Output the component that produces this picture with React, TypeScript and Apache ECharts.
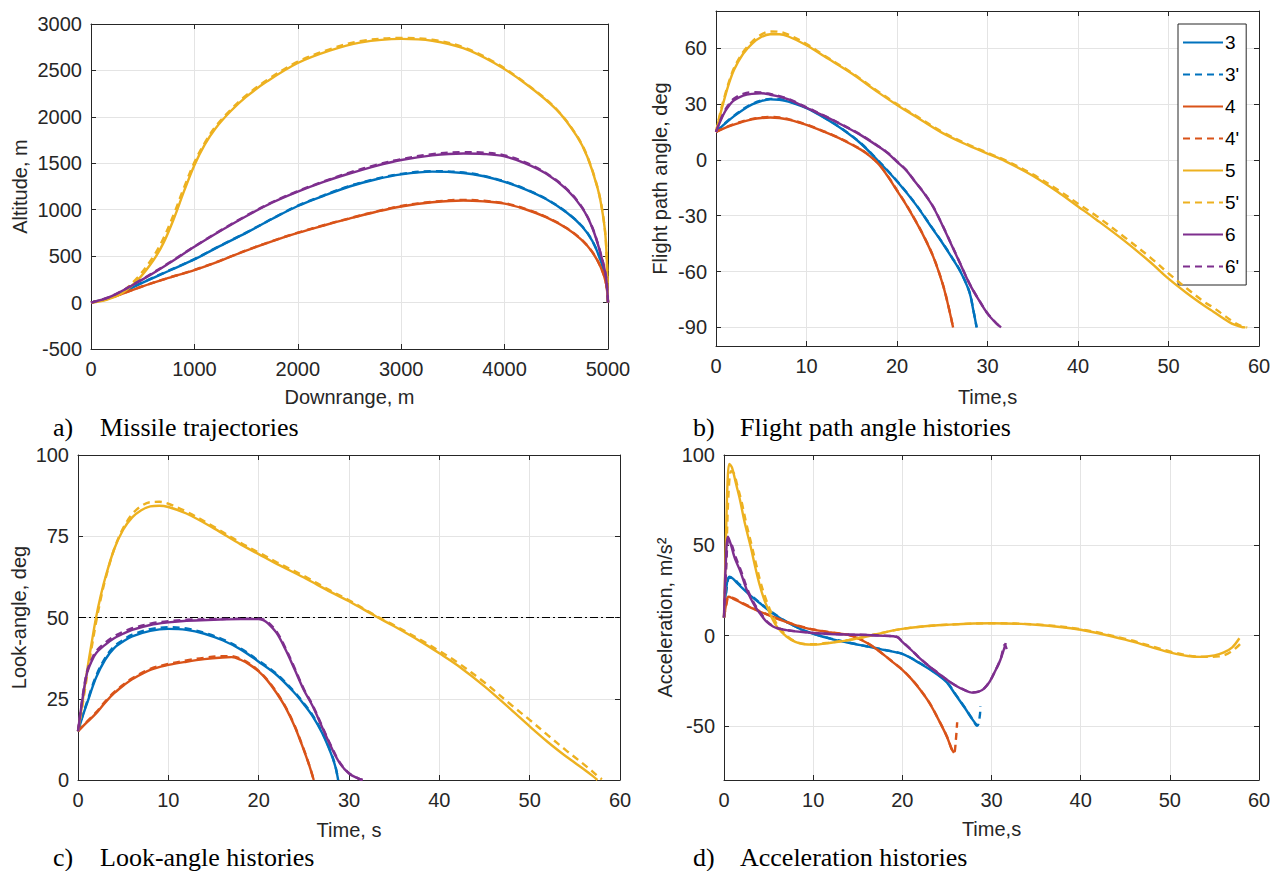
import { useEffect, useRef } from 'react';
import * as echarts from 'echarts';

type Pt = [number, number];

// ---------- legend / series names and colours ----------
const seriesNames = ['3', "3'", '4', "4'", '5', "5'", '6', "6'"];
const seriesColors = ['#0072BD', '#D95319', '#EDB120', '#7E2F8E'];

// ---------- panel a: altitude vs downrange ----------
const altA3: Pt[] = [[0,0],[200,60],[500,215],[750,340],[1000,465],[1250,610],[1500,750],[1750,900],[2000,1040],[2250,1150],[2500,1250],[2750,1325],[3000,1380],[3300,1410],[3600,1395],[3800,1360],[4000,1300],[4200,1220],[4400,1115],[4600,970],[4750,820],[4850,660],[4930,450],[4980,250],[5000,0]];
const altA3d: Pt[] = [[0,0],[200,62],[500,218],[750,343],[1000,468],[1250,613],[1500,753],[1750,903],[2000,1044],[2250,1155],[2500,1256],[2750,1331],[3000,1386],[3300,1416],[3600,1401],[3800,1365],[4000,1305],[4200,1224],[4400,1118],[4600,972],[4750,822],[4850,662],[4930,452],[4980,252],[5000,0]];
const altA4: Pt[] = [[0,0],[200,55],[500,175],[750,265],[1000,350],[1250,450],[1500,560],[1750,660],[2000,750],[2250,830],[2500,905],[2750,975],[3000,1035],[3300,1080],[3600,1100],[3800,1090],[4000,1065],[4200,1005],[4400,920],[4600,800],[4750,670],[4850,540],[4930,380],[4980,210],[5000,0]];
const altA4d: Pt[] = [[0,0],[200,56],[500,177],[750,267],[1000,352],[1250,452],[1500,562],[1750,662],[2000,753],[2250,833],[2500,908],[2750,979],[3000,1040],[3300,1085],[3600,1106],[3800,1096],[4000,1070],[4200,1010],[4400,924],[4600,803],[4750,672],[4850,542],[4930,382],[4980,212],[5000,0]];
const altA5: Pt[] = [[0,0],[150,30],[300,100],[450,240],[600,450],[700,640],[800,900],[900,1200],[1000,1480],[1100,1700],[1200,1870],[1350,2060],[1500,2215],[1700,2380],[2000,2580],[2300,2710],[2600,2800],[3000,2840],[3300,2820],[3600,2740],[3900,2580],[4200,2360],[4500,2080],[4700,1790],[4800,1570],[4900,1230],[4950,950],[4980,650],[5000,0]];
const altA5d: Pt[] = [[0,0],[150,35],[300,115],[450,270],[600,490],[700,690],[800,950],[900,1240],[1000,1510],[1100,1720],[1200,1890],[1350,2075],[1500,2230],[1700,2395],[2000,2595],[2300,2725],[2600,2815],[3000,2850],[3300,2830],[3600,2750],[3900,2590],[4200,2365],[4500,2085],[4700,1795],[4800,1575],[4900,1235],[4950,955],[4980,655],[5000,0]];
const altA6: Pt[] = [[0,0],[200,70],[500,250],[750,420],[1000,600],[1250,770],[1500,930],[1750,1075],[2000,1195],[2250,1300],[2500,1390],[2750,1470],[3000,1535],[3300,1585],[3600,1605],[3800,1600],[4000,1575],[4200,1500],[4400,1390],[4600,1220],[4750,1020],[4850,800],[4930,520],[4980,280],[5000,0]];
const altA6d: Pt[] = [[0,0],[200,70],[500,255],[750,425],[1000,605],[1250,775],[1500,935],[1750,1080],[2000,1200],[2250,1305],[2500,1400],[2750,1480],[3000,1545],[3300,1598],[3600,1620],[3800,1615],[4000,1585],[4200,1510],[4400,1395],[4600,1225],[4750,1025],[4850,805],[4930,525],[4980,285],[5000,0]];

// ---------- panel b: flight path angle vs time ----------
const fpaB3: Pt[] = [[0,15],[1,19.5],[2,23.5],[3,27],[4,29.8],[5,31.6],[6,32.5],[7,32.3],[8,31.3],[10,27.8],[12,22.5],[14,16.3],[16,8.8],[18,-1],[20,-11.5],[22,-23.5],[24,-37.5],[25,-44.5],[26,-52],[27,-60],[28,-71],[28.4,-80],[28.8,-90]];
const fpaB3d: Pt[] = [[0,15],[1,19.7],[2,23.8],[3,27.3],[4,30.1],[5,31.9],[6,32.8],[7,32.6],[8,31.6],[10,28],[12,22.7],[14,16.5],[16,9],[18,-0.8],[20,-11.3],[22,-23.3],[24,-37.3],[25,-44.3],[26,-51.8],[27,-59.8],[28,-70.8],[28.4,-79.8],[28.8,-90]];
const fpaB4: Pt[] = [[0,15],[1,17.2],[2,19],[3,20.6],[4,21.8],[5,22.5],[6,22.8],[7,22.5],[8,21.6],[10,18.8],[12,15],[14,10.7],[16,5.5],[17,2],[18,-2.5],[19,-9],[20,-16.5],[21,-24],[22,-32.4],[23,-41.5],[24,-52],[25,-66],[25.6,-77],[26.2,-90]];
const fpaB4d: Pt[] = [[0,15],[1,17.4],[2,19.2],[3,20.8],[4,22],[5,22.8],[6,23.1],[7,22.8],[8,21.9],[10,19],[12,15.2],[14,10.9],[16,5.7],[17,2.2],[18,-2.3],[19,-8.8],[20,-16.3],[21,-23.8],[22,-32.2],[23,-41.3],[24,-51.8],[25,-65.8],[25.6,-76.8],[26.2,-90]];
const fpaB5: Pt[] = [[0,15],[0.5,25],[1,34],[1.5,42],[2,48.5],[3,57],[4,62.5],[5,66],[6,67.5],[7,67.5],[8,66.3],[10,61.6],[12,55.5],[15,46.4],[18,36],[20,29.5],[22,23.5],[25,14.5],[28,7.5],[30,3.4],[32,-0.8],[35,-8.5],[38,-18],[40,-25],[42,-32],[45,-43],[48,-55],[50,-63.8],[52,-71.5],[54,-78.5],[55,-81.7],[56,-85],[57,-88],[58,-89.7],[58.5,-90]];
const fpaB5d: Pt[] = [[0,15],[0.5,26],[1,35],[1.5,43],[2,49.5],[3,58],[4,63.5],[5,67.3],[6,69],[7,68.8],[8,67.3],[10,62.3],[12,56],[15,46.8],[18,36.5],[20,30],[22,24],[25,15],[28,8],[30,3.8],[32,-0.3],[35,-7.8],[38,-16.8],[40,-23.5],[42,-30],[45,-41],[48,-52.5],[50,-61],[52,-69],[54,-76.5],[55,-79.5],[56,-83],[57,-86.5],[58,-89.2],[58.7,-90]];
const fpaB6: Pt[] = [[0,15],[0.5,21],[1,26],[1.5,29.5],[2,32],[3,34.5],[4,35.5],[5,35.8],[6,35],[7,34],[8,32.5],[10,28],[12,23.5],[14,18.6],[16,13.3],[18,7],[19,3.5],[20,-1],[21,-5.5],[22,-11.8],[23,-18],[24,-25.3],[25,-35],[26,-45.5],[27,-56],[28,-66.5],[29,-75],[30,-82.6],[31,-88],[31.5,-90]];
const fpaB6d: Pt[] = [[0,15],[0.5,21.5],[1,26.8],[1.5,30.3],[2,33],[3,35.5],[4,36.4],[5,36.3],[6,35.4],[7,34.3],[8,32.8],[10,28.3],[12,23.7],[14,18.8],[16,13.5],[18,7.2],[19,3.7],[20,-0.8],[21,-5.3],[22,-11.6],[23,-17.8],[24,-25.1],[25,-34.8],[26,-45.3],[27,-55.8],[28,-66.3],[29,-74.8],[30,-82.4],[31,-87.9],[31.5,-90]];

// ---------- panel c: look-angle vs time ----------
const lookC3: Pt[] = [[0,15],[0.5,19.5],[1,23.6],[2,31.5],[3,37],[4,40.6],[5,42.6],[6,44.2],[8,45.9],[10,46.5],[12,46.2],[14,45],[16,43],[18,40.2],[20,36.4],[22,32.3],[24,26.7],[25,23.3],[26,19.5],[27,14.6],[28,8.2],[28.5,4],[28.8,0]];
const lookC3d: Pt[] = [[0,15],[0.5,19.8],[1,24],[2,32],[3,37.5],[4,41.1],[5,43.1],[6,44.7],[8,46.4],[10,47],[12,46.6],[14,45.3],[16,43.3],[18,40.5],[20,36.7],[22,32.6],[24,27],[25,23.6],[26,19.8],[27,14.9],[28,8.5],[28.5,4.2],[28.8,0]];
const lookC4: Pt[] = [[0,15],[1,17.8],[2,20.5],[3,23.8],[4,26.7],[5,29],[6,31],[8,33.9],[10,35.4],[12,36.4],[14,37.2],[16,37.7],[17,37.8],[18,37],[19,35.5],[20,33.4],[21,30.5],[22,26.7],[23,22.2],[24,16.4],[25,9.2],[25.6,4.5],[26.1,0]];
const lookC4d: Pt[] = [[0,15],[1,18],[2,20.8],[3,24.1],[4,27],[5,29.3],[6,31.3],[8,34.2],[10,35.7],[12,36.8],[14,37.6],[16,38.1],[17,38.1],[18,37.3],[19,35.8],[20,33.6],[21,30.7],[22,26.9],[23,22.4],[24,16.6],[25,9.4],[25.6,4.6],[26.1,0]];
const lookC5: Pt[] = [[0,15],[0.5,24],[1,33.5],[1.5,42],[2,50],[2.5,56.5],[3,62],[4,71],[5,77],[6,80.8],[7,83],[8,84.2],[9,84.4],[10,84],[12,82],[15,77.5],[18,72.5],[20,69.5],[22,66.5],[25,62.3],[28,57.8],[30,55],[33,50.3],[35,47.3],[38,42.5],[40,39],[42,35.3],[45,28.8],[48,21.5],[50,16.5],[52,11.7],[54,7.3],[55,5.3],[56,3.3],[57,1.2],[57.5,0]];
const lookC5d: Pt[] = [[0,15],[0.5,23],[1,32],[1.5,40.5],[2,48.5],[2.5,55.5],[3,61.5],[4,71],[5,77.5],[6,81.8],[7,84.3],[8,85.5],[9,85.6],[10,85],[12,82.6],[15,78],[18,73],[20,70],[22,67],[25,62.8],[28,58.2],[30,55.3],[33,50.5],[35,47.6],[38,43],[40,39.7],[42,36.2],[45,30],[48,23],[50,18.5],[52,13.8],[54,9.2],[55,7],[56,4.8],[57,2.5],[57.6,1],[58,0.2]];
const lookC6: Pt[] = [[0,15],[0.5,25],[1,32.9],[1.5,36.5],[2,39],[3,41.6],[4,43.6],[5,45],[6,46.2],[8,47.7],[10,48.5],[12,49],[15,49.3],[18,49.5],[20,49.5],[20.5,49.2],[21,48.3],[22,45.2],[23,40],[24,33.9],[25,27.7],[26,22.6],[27,16.4],[28,10.3],[29,5.1],[30,2],[31,0.5],[31.5,0]];
const lookC6d: Pt[] = [[0,15],[0.5,25.5],[1,33.4],[1.5,37],[2,39.6],[3,42.2],[4,44.2],[5,45.6],[6,46.7],[8,48.1],[10,48.9],[12,49.3],[15,49.5],[18,49.6],[20,49.6],[20.5,49.4],[21,48.6],[22,45.6],[23,40.4],[24,34.3],[25,28],[26,22.9],[27,16.7],[28,10.6],[29,5.3],[30,2.1],[31,0.5],[31.5,0]];
const lookLimit = 50;

// ---------- panel d: acceleration vs time ----------
const accD3: Pt[] = [[0,10],[0.3,28],[0.6,32.6],[1,31.5],[1.5,29],[2,26.5],[3,22],[4,18],[5,14],[6,10.5],[7,7.5],[8,5],[9,2.7],[10,1],[12,-1.8],[14,-4],[16,-6],[18,-8],[20,-10.2],[22,-15.5],[24,-21.8],[25,-26],[26,-33],[27,-40],[27.8,-46],[28.4,-50]];
const accD3d: Pt[] = [[0,10],[0.3,26],[0.6,32],[1,31.8],[1.5,29.5],[2,27],[3,22.4],[4,18.3],[5,14.3],[6,10.8],[7,7.7],[8,5.1],[9,2.8],[10,1.1],[12,-1.7],[14,-3.9],[16,-5.9],[18,-7.9],[20,-10.1],[22,-15.3],[24,-21.6],[25,-25.8],[26,-32.8],[27,-39.8],[27.8,-45.8],[28.4,-50],[28.7,-44],[28.75,-39]];
const accD4: Pt[] = [[0,10],[0.3,19],[0.5,21.5],[1,20.5],[2,18],[3,15.5],[4,13.3],[5,11.3],[6,9.3],[7,7.5],[8,5.8],[10,3.3],[12,1.7],[14,0.3],[15,-1.5],[16,-4],[17,-7.2],[18,-11],[19,-15],[20,-19],[21,-24],[22,-30],[23,-37],[24,-46],[25,-56],[25.5,-62.5],[25.8,-65]];
const accD4d: Pt[] = [[0,10],[0.3,18],[0.5,21],[1,20.8],[2,18.3],[3,15.8],[4,13.5],[5,11.5],[6,9.5],[7,7.6],[8,5.9],[10,3.4],[12,1.8],[14,0.4],[15,-1.4],[16,-3.9],[17,-7.1],[18,-10.9],[19,-14.9],[20,-18.9],[21,-23.9],[22,-29.9],[23,-36.9],[24,-45.9],[25,-55.9],[25.5,-62.4],[25.8,-65],[26,-58],[26.15,-48]];
const accD5: Pt[] = [[0,10],[0.2,50],[0.4,85],[0.6,95],[0.9,93],[1.3,85],[1.8,75],[2.3,63],[3,49],[3.5,38],[4,28],[4.5,20],[5,14],[5.5,8.5],[6,4.5],[7,-0.5],[8,-3.5],[9,-4.8],[10,-5],[12,-4],[14,-2.5],[16,-0.5],[18,1.8],[20,3.7],[22,4.9],[25,6],[30,6.8],[35,6],[40,3.2],[45,-2.3],[48,-6.5],[50,-9.3],[52,-11.3],[53.5,-11.8],[55,-11],[56,-9.5],[57,-6.5],[57.8,-1.5]];
const accD5d: Pt[] = [[0,10],[0.25,42],[0.5,78],[0.8,91],[1.1,90],[1.5,83],[2,73.5],[2.5,62],[3.1,50],[3.6,39.5],[4.1,29.5],[4.6,21.5],[5.1,15],[5.6,9.5],[6.1,5],[7.1,-0.3],[8,-3.3],[9,-4.6],[10,-4.8],[12,-3.8],[14,-2.4],[16,-0.4],[18,1.8],[20,3.7],[22,4.9],[25,6],[30,6.8],[35,6.1],[40,3.5],[45,-1.8],[48,-6],[50,-8.8],[52,-11],[54,-11.8],[55.5,-11.5],[56.5,-10],[57.5,-6.5],[58.2,-3]];
const accD6: Pt[] = [[0,10],[0.2,40],[0.45,54.8],[0.8,50],[1.2,43],[1.8,36],[2.5,26],[3,20.5],[3.5,16],[4,12.5],[4.8,7.5],[5.5,5],[6,4],[7,3],[8,2.3],[10,1.4],[12,0.8],[14,0.5],[16,0.3],[18,-0.2],[19.4,-0.8],[20,-3.5],[21,-8],[22,-12.8],[23,-17],[24,-20.8],[25,-24.5],[26,-27.8],[27,-30.3],[27.8,-31.6],[28.5,-31.2],[29.2,-29.2],[29.8,-25.5],[30.3,-20.8],[31,-13.4],[31.6,-4.1]];
const accD6d: Pt[] = [[0,10],[0.25,38],[0.5,53],[0.85,50.5],[1.3,43.5],[1.9,36],[2.6,26],[3.1,20.5],[3.6,16],[4.1,12.5],[4.9,7.5],[5.6,5],[6.1,4],[7,3.1],[8,2.4],[10,1.5],[12,0.9],[14,0.6],[16,0.4],[18,-0.1],[19.4,-0.7],[20,-3.4],[21,-7.9],[22,-12.7],[23,-16.9],[24,-20.7],[25,-24.4],[26,-27.7],[27,-30.2],[27.8,-31.5],[28.5,-31.1],[29.2,-29.1],[29.8,-25.4],[30.3,-20.7],[31,-13.3],[31.5,-5],[31.7,-7.5]];

// ---------- axis ticks ----------
const ticksAy = [-500, 0, 500, 1000, 1500, 2000, 2500, 3000];
const ticksBy = [-90, -60, -30, 0, 30, 60];
const ticksCy = [0, 25, 50, 75, 100];
const ticksDy = [-50, 0, 50, 100];

const panelData: Pt[][][] = [
  [altA3, altA3d, altA4, altA4d, altA5, altA5d, altA6, altA6d],
  [fpaB3, fpaB3d, fpaB4, fpaB4d, fpaB5, fpaB5d, fpaB6, fpaB6d],
  [lookC3, lookC3d, lookC4, lookC4d, lookC5, lookC5d, lookC6, lookC6d],
  [accD3, accD3d, accD4, accD4d, accD5, accD5d, accD6, accD6d],
];

const AX = '#262626';
const GRIDC = '#e4e4e4';
const SANS = 'Liberation Sans';
const SERIF = 'Liberation Serif';
const plain = (v: number) => String(v);

function xAxes(i: number, max: number, interval: number, name: string, nameGap: number) {
  return [
    {
      type: 'value', gridIndex: i, position: 'bottom', min: 0, max, interval,
      name, nameLocation: 'middle', nameGap,
      nameTextStyle: { fontFamily: SANS, fontSize: 20, color: AX },
      axisLine: { show: true, onZero: false, lineStyle: { color: AX, width: 1 } },
      axisTick: { show: true, inside: true, length: 5, lineStyle: { color: AX } },
      axisLabel: { margin: 10, fontFamily: SANS, fontSize: 20, color: AX, formatter: plain },
      splitLine: { show: true, lineStyle: { color: GRIDC, width: 1 } },
    },
    {
      type: 'value', gridIndex: i, position: 'top', min: 0, max, interval,
      axisLine: { show: true, onZero: false, lineStyle: { color: AX, width: 1 } },
      axisTick: { show: true, inside: true, length: 5, lineStyle: { color: AX } },
      axisLabel: { show: false },
      splitLine: { show: false },
    },
  ];
}

function yAxes(i: number, min: number, max: number, ticks: number[], name: string, nameGap: number) {
  return [
    {
      type: 'value', gridIndex: i, position: 'left', min, max,
      name, nameLocation: 'middle', nameGap,
      nameTextStyle: { fontFamily: SANS, fontSize: 20, color: AX },
      axisLine: { show: true, onZero: false, lineStyle: { color: AX, width: 1 } },
      axisTick: { show: true, inside: true, length: 5, lineStyle: { color: AX }, customValues: ticks },
      axisLabel: { margin: 9, fontFamily: SANS, fontSize: 20, color: AX, customValues: ticks, formatter: plain },
      splitLine: { show: true, lineStyle: { color: GRIDC, width: 1 } },
    },
    {
      type: 'value', gridIndex: i, position: 'right', min, max,
      axisLine: { show: true, onZero: false, lineStyle: { color: AX, width: 1 } },
      axisTick: { show: true, inside: true, length: 5, lineStyle: { color: AX }, customValues: ticks },
      axisLabel: { show: false, customValues: ticks },
      splitLine: { show: false },
    },
  ];
}

function caption(x1: number, x2: number, y: number, tag: string, text: string) {
  return [
    { type: 'text', x: x1, y, style: { text: tag, font: `26px "${SERIF}"`, fill: '#000', verticalAlign: 'middle' } },
    { type: 'text', x: x2, y, style: { text, font: `26px "${SERIF}"`, fill: '#000', verticalAlign: 'middle' } },
  ];
}

export default function App() {
  const ref = useRef<HTMLDivElement>(null);
  useEffect(() => {
    if (!ref.current) return;
    const chart = echarts.init(ref.current, undefined, { renderer: 'svg' });

    const xs: any[] = [];
    const ys: any[] = [];
    const xa = [
      xAxes(0, 5000, 1000, 'Downrange, m', 38),
      xAxes(1, 60, 10, 'Time,s', 41),
      xAxes(2, 60, 10, 'Time, s', 40),
      xAxes(3, 60, 10, 'Time,s', 39),
    ];
    const ya = [
      yAxes(0, -500, 3000, ticksAy, 'Altitude, m', 61),
      yAxes(1, -100, 80, ticksBy, 'Flight path angle, deg', 46),
      yAxes(2, 0, 100, ticksCy, 'Look-angle, deg', 49),
      yAxes(3, -80, 100, ticksDy, 'Acceleration, m/s²', 49),
    ];
    xa.forEach((p) => xs.push(p[0]));
    xa.forEach((p) => xs.push(p[1]));
    ya.forEach((p) => ys.push(p[0]));
    ya.forEach((p) => ys.push(p[1]));

    const series: any[] = [];
    panelData.forEach((curves, p) => {
      curves.forEach((data, k) => {
        const s: any = {
          type: 'line',
          name: seriesNames[k],
          xAxisIndex: p,
          yAxisIndex: p,
          data,
          symbol: 'none',
          showSymbol: false,
          smooth: 0.35,
          clip: true,
          lineStyle: {
            color: seriesColors[Math.floor(k / 2)],
            width: 2.4,
            type: k % 2 === 1 ? [7, 5] : 'solid',
          },
          itemStyle: { color: seriesColors[Math.floor(k / 2)] },
          emphasis: { disabled: true },
          z: 2 + k,
        };
        if (p === 2 && k === 0) {
          s.markLine = {
            silent: true,
            symbol: ['none', 'none'],
            label: { show: false },
            lineStyle: { color: '#000', width: 1, type: [8, 3, 2, 3] },
            data: [{ yAxis: lookLimit }],
          };
        }
        series.push(s);
      });
    });

    chart.setOption({
      animation: false,
      backgroundColor: '#fff',
      textStyle: { fontFamily: SANS },
      grid: [
        { left: 91, top: 24, width: 517, height: 325, outerBoundsMode: 'none' },
        { left: 716, top: 11, width: 543, height: 335, outerBoundsMode: 'none' },
        { left: 78, top: 455, width: 542, height: 325, outerBoundsMode: 'none' },
        { left: 724, top: 455, width: 535, height: 325, outerBoundsMode: 'none' },
      ],
      xAxis: xs,
      yAxis: ys,
      legend: {
        data: seriesNames,
        orient: 'vertical',
        left: 1178,
        top: 24,
        itemWidth: 40,
        itemHeight: 14,
        itemGap: 13,
        padding: [9, 7, 9, 4],
        borderColor: AX,
        borderWidth: 1,
        borderRadius: 0,
        backgroundColor: '#fff',
        selectedMode: false,
        itemStyle: { opacity: 0 },
        textStyle: { fontFamily: SANS, fontSize: 19, color: '#000', padding: [0, 0, 0, -3] },
      },
      graphic: [
        ...caption(53, 100, 427, 'a)', 'Missile trajectories'),
        ...caption(693, 740, 427, 'b)', 'Flight path angle histories'),
        ...caption(53, 100, 857, 'c)', 'Look-angle histories'),
        ...caption(693, 740, 857, 'd)', 'Acceleration histories'),
      ],
      series,
    });

    return () => chart.dispose();
  }, []);

  return (
    <div
      ref={ref}
      style={{ position: 'fixed', left: 0, top: 0, width: 1274, height: 871, background: '#fff' }}
    />
  );
}
